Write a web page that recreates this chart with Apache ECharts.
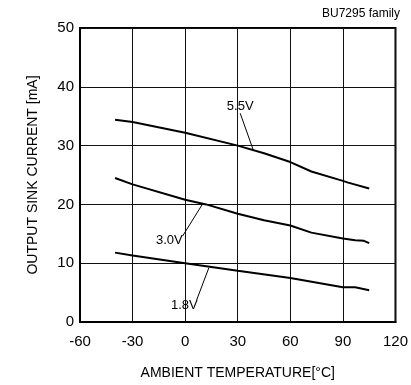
<!DOCTYPE html>
<html><head><meta charset="utf-8">
<script src="https://cdn.jsdelivr.net/npm/echarts@6/dist/echarts.min.js"></script>
<style>html,body{margin:0;padding:0;background:#fff}#c{width:411px;height:385px}</style>
</head><body><div id="c"></div>
<script>
var xTicks = [-60, -30, 0, 30, 60, 90, 120];
var yTicks = [0, 10, 20, 30, 40, 50];
var temps55 = [-40, -30, 0, 30, 45, 60, 72, 90, 93, 105];
var vals55 = [34.4, 34.0, 32.2, 30.0, 28.7, 27.2, 25.6, 24.0, 23.7, 22.7];
var temps30 = [-40, -30, 0, 12, 30, 45, 60, 72, 90, 97, 102, 105];
var vals30 = [24.5, 23.4, 20.8, 20.0, 18.4, 17.3, 16.4, 15.2, 14.2, 13.9, 13.8, 13.4];
var temps18 = [-40, -30, 0, 30, 60, 90, 97, 105];
var vals18 = [11.8, 11.3, 10.0, 8.7, 7.5, 5.9, 5.9, 5.4];
var seriesNames = ['5.5V', '3.0V', '1.8V'];
// leader lines: [startX, startY, endX, endY] in data units
var leader55 = [31.4, 35.5, 38.8, 29.3];
var leader30 = [-1.5, 14.6, 10.2, 20.2];
var leader18 = [6.5, 3.7, 13.5, 9.2];
var text55 = [31.4, 36.6];
var text30 = [-9.0, 13.8];
var text18 = [-0.5, 2.8];

function pairs(xs, ys){ return xs.map(function(x,i){return [x, ys[i]];}); }
function leaderSeries(name, lead, txt){
  return {
    type:'line', data: [], silent:true,
    markLine: {silent:true, symbol:'none', animation:false,
      lineStyle:{color:'#000', width:1, type:'solid'}, label:{show:false},
      data: [[{coord:[lead[0], lead[1]]},{coord:[lead[2], lead[3]]}]]},
    markPoint: {silent:true, symbol:'circle', symbolSize:0, animation:false,
      label:{show:true, position:'inside', formatter:name, color:'#000', fontSize:13, fontFamily:'Liberation Sans, Arial, sans-serif'},
      data:[{coord:[txt[0], txt[1]]}]}
  };
}
var chart = echarts.init(document.getElementById('c'), null, {renderer:'canvas'});
var font = 'Liberation Sans, Arial, sans-serif';
var option = {
  animation:false,
  backgroundColor:'#fff',
  grid:{left:80, right:14, top:28, bottom:57, show:true, borderColor:'#000', borderWidth:2, backgroundColor:'transparent'},
  xAxis:{type:'value', min:xTicks[0], max:xTicks[xTicks.length-1], interval:30,
    name:'AMBIENT TEMPERATURE[°C]', nameLocation:'middle', nameGap:44,
    nameTextStyle:{color:'#000', fontSize:14, fontFamily:font},
    axisLine:{show:true, onZero:false, lineStyle:{color:'#000', width:2}},
    axisTick:{show:false},
    axisLabel:{color:'#000', fontSize:15, fontFamily:font, margin:12},
    splitLine:{show:true, lineStyle:{color:'#111', width:1}}},
  yAxis:{type:'value', min:yTicks[0], max:yTicks[yTicks.length-1], interval:10,
    name:'OUTPUT SINK CURRENT [mA]', nameLocation:'middle', nameGap:40,
    nameTextStyle:{color:'#000', fontSize:14, fontFamily:font},
    axisLine:{show:true, onZero:false, lineStyle:{color:'#000', width:2}},
    axisTick:{show:false},
    axisLabel:{color:'#000', fontSize:15, fontFamily:font, margin:6},
    splitLine:{show:true, lineStyle:{color:'#111', width:1}}},
  graphic:[{type:'text', right:11, top:8, style:{text:'BU7295 family', fill:'#000', fontSize:12, fontFamily:font}}],
  series:[
    {name:seriesNames[0], type:'line', data:pairs(temps55, vals55), symbol:'none', lineStyle:{color:'#000', width:2}},
    {name:seriesNames[1], type:'line', data:pairs(temps30, vals30), symbol:'none', lineStyle:{color:'#000', width:2}},
    {name:seriesNames[2], type:'line', data:pairs(temps18, vals18), symbol:'none', lineStyle:{color:'#000', width:2}},
    leaderSeries(seriesNames[0], leader55, text55),
    leaderSeries(seriesNames[1], leader30, text30),
    leaderSeries(seriesNames[2], leader18, text18)
  ]
};
chart.setOption(option);
</script></body></html>
